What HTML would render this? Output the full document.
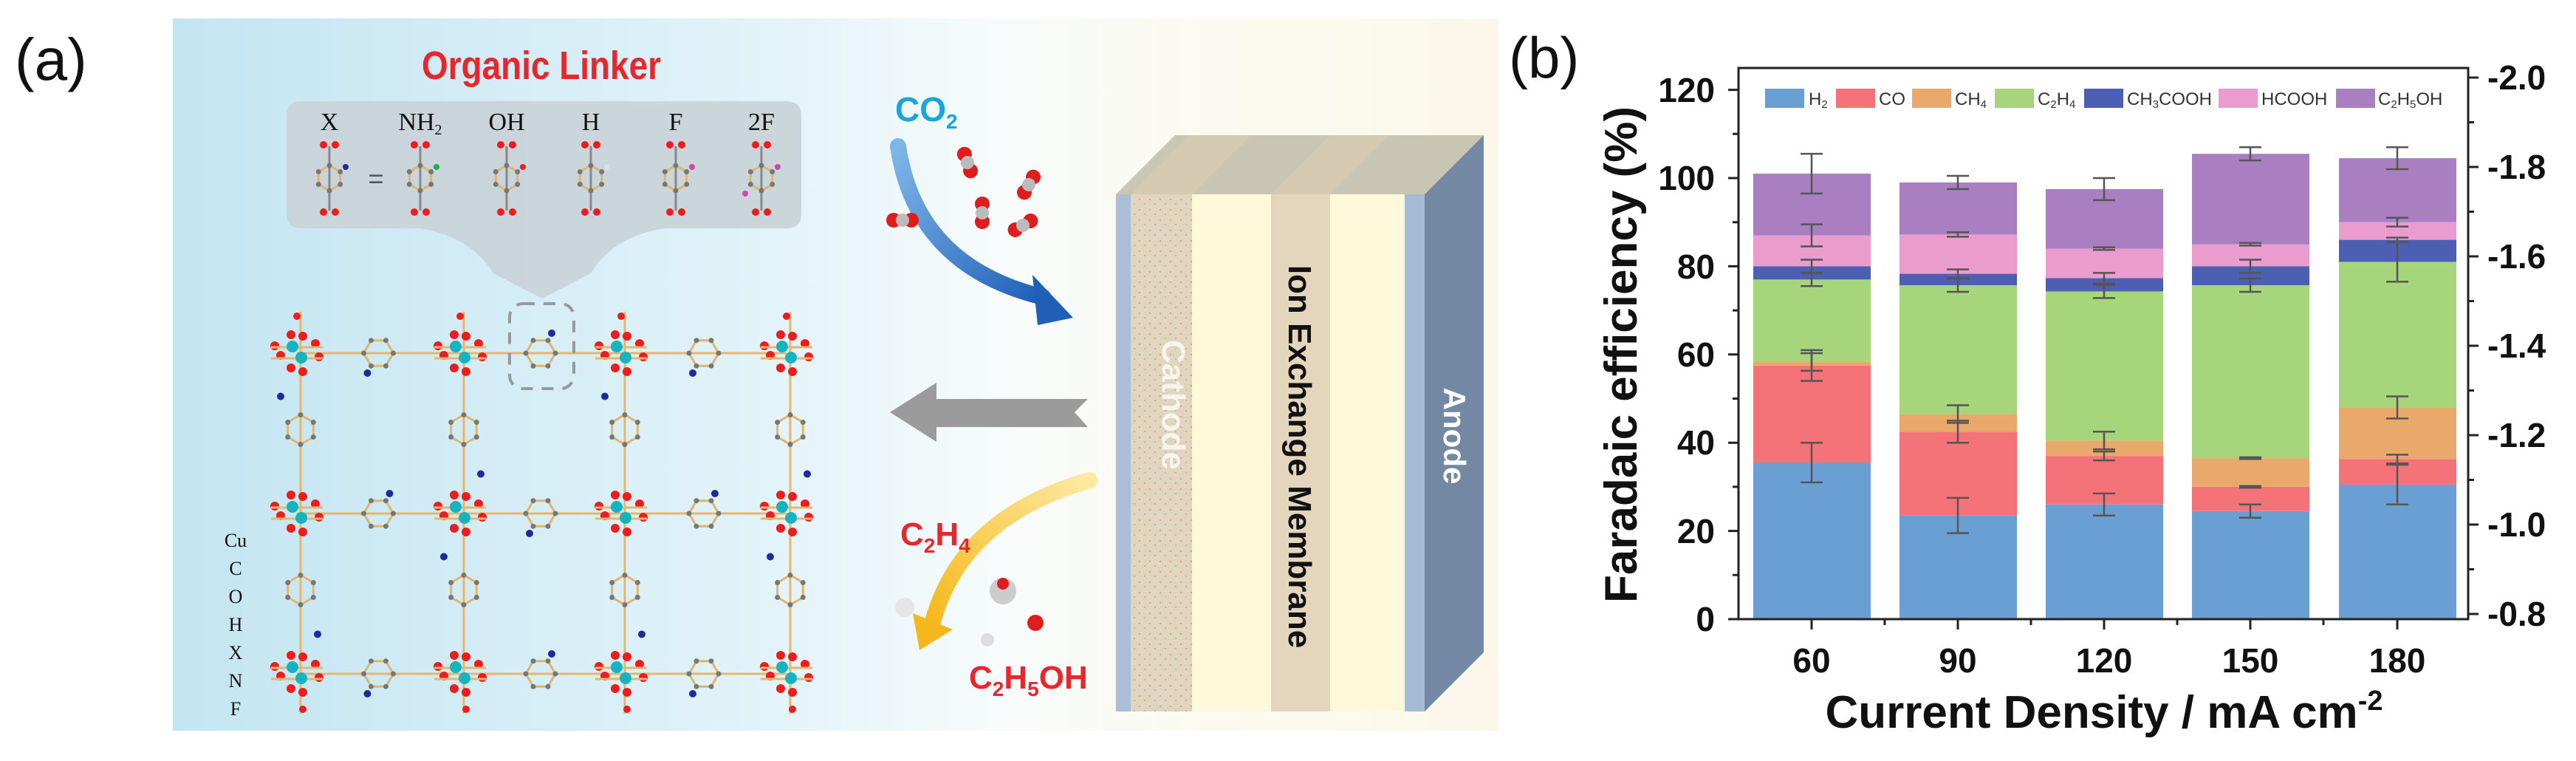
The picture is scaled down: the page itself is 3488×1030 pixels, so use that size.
<!DOCTYPE html>
<html><head><meta charset="utf-8"><style>
html,body{margin:0;padding:0;background:#fff;}
svg{display:block;}
</style></head><body>
<svg id="s" width="3488" height="1030" viewBox="0 0 3488 1030" xmlns="http://www.w3.org/2000/svg" font-family="Liberation Sans, sans-serif">
<defs>
<linearGradient id="bg" x1="0" y1="0" x2="1" y2="0">
<stop offset="0" stop-color="#c3e5f2"/><stop offset="0.45" stop-color="#e2f3f9"/><stop offset="0.62" stop-color="#f7fbfb"/><stop offset="0.78" stop-color="#fcfaf0"/><stop offset="1" stop-color="#fbf8ea"/></linearGradient>
<linearGradient id="blueA" x1="0" y1="0" x2="1" y2="1"><stop offset="0" stop-color="#7fb6e8"/><stop offset="1" stop-color="#1f5fb8"/></linearGradient>
<linearGradient id="yelA" x1="1" y1="0" x2="0" y2="1"><stop offset="0" stop-color="#fde9a0"/><stop offset="1" stop-color="#f5b81c"/></linearGradient>
<pattern id="tex" width="14" height="14" patternUnits="userSpaceOnUse"><rect width="14" height="14" fill="#e2d5bd"/><rect x="2" y="3" width="2" height="2" fill="#d9a08a"/><rect x="9" y="9" width="2" height="2" fill="#9fc0c8"/></pattern>
</defs>
<rect width="3488" height="1030" fill="#fff"/>
<!-- panel a -->
<text x="20" y="108" font-size="80" fill="#111">(a)</text>
<rect x="234" y="25" width="1795" height="964" fill="url(#bg)"/>
<text x="733" y="107" font-size="54" font-weight="bold" fill="#e8262c" text-anchor="middle" transform="translate(733 0) scale(0.85 1) translate(-733 0)">Organic Linker</text>
<path d="M408,137 H1065 Q1085,137 1085,157 V290 Q1085,309 1065,309 H900 Q830,320 800,370 L734,404 L668,370 Q638,320 568,309 H408 Q388,309 388,290 V157 Q388,137 408,137 Z" fill="#c9d4d9" opacity="0.95"/>
<g font-family="Liberation Serif, serif" font-size="34" fill="#111" text-anchor="middle">
<text x="446" y="176">X</text><text x="569" y="176">NH<tspan font-size="20" dy="6">2</tspan></text><text x="686" y="176">OH</text><text x="800" y="176">H</text><text x="915" y="176">F</text><text x="1031" y="176">2F</text>
</g>
<text x="509" y="254" font-size="36" fill="#555" text-anchor="middle">=</text>
<g id="mols"></g>
<g id="mof"></g>
<rect x="690" y="411" width="87" height="115" rx="18" fill="none" stroke="#999" stroke-width="4" stroke-dasharray="16 12"/>
<g font-family="Liberation Serif, serif" font-size="26" fill="#111" text-anchor="middle">
<text x="319" y="740">Cu</text><text x="319" y="778">C</text><text x="319" y="816">O</text><text x="319" y="854">H</text><text x="319" y="892">X</text><text x="319" y="930">N</text><text x="319" y="968">F</text>
</g>
<!-- CO2 -->
<text x="1212" y="164" font-size="46" font-weight="bold" fill="#1aa6dd">CO<tspan font-size="28" dy="10">2</tspan></text>
<path d="M1216,198 Q1240,360 1412,402" fill="none" stroke="url(#blueA)" stroke-width="22" stroke-linecap="round"/>
<polygon points="1453,430 1398,372 1405,440" fill="#1f5fb8"/>
<g id="co2"></g>
<!-- gray arrow -->
<polygon points="1205,558 1268,518 1268,540 1473,540 1455,558 1473,578 1268,578 1268,598" fill="#9b9b9b"/>
<!-- yellow arrow -->
<path d="M1475,650 Q1300,700 1262,845" fill="none" stroke="url(#yelA)" stroke-width="22" stroke-linecap="round"/>
<polygon points="1245,880 1236,830 1290,852" fill="#f5b81c"/>
<text x="1219" y="738" font-size="44" font-weight="bold" fill="#e8262c">C<tspan font-size="28" dy="10">2</tspan><tspan dy="-10">H</tspan><tspan font-size="28" dy="10">4</tspan></text>
<text x="1312" y="932" font-size="44" font-weight="bold" fill="#e8262c">C<tspan font-size="28" dy="10">2</tspan><tspan dy="-10">H</tspan><tspan font-size="28" dy="10">5</tspan><tspan dy="-10">OH</tspan></text>
<g id="prod"></g>
<!-- cell -->
<polygon points="1511,263 1929,263 2009,183 1591,183" fill="#c9c7b3"/>
<polygon points="1531,263 1614,263 1694,183 1611,183" fill="#d8ccb0" opacity="0.7"/>
<polygon points="1721,263 1801,263 1881,183 1801,183" fill="#d8ccb0" opacity="0.7"/>
<rect x="1511" y="263" width="20" height="700" fill="#a9bfd9"/>
<rect x="1531" y="263" width="83" height="700" fill="url(#tex)"/>
<rect x="1614" y="263" width="107" height="700" fill="#fdf8d9"/>
<rect x="1721" y="263" width="80" height="700" fill="#e3d6bd"/>
<rect x="1801" y="263" width="101" height="700" fill="#fdf8d9"/>
<rect x="1902" y="263" width="27" height="700" fill="#a6bcd6"/>
<polygon points="1929,263 2009,183 2009,883 1929,963" fill="#7388a3"/>
<text transform="translate(1574,548) rotate(90)" font-size="44" font-weight="bold" fill="#fff" fill-opacity="0.75" text-anchor="middle">Cathode</text>
<text transform="translate(1745,618) rotate(90)" font-size="44" font-weight="bold" fill="#111" text-anchor="middle">Ion Exchange Membrane</text>
<text transform="translate(1955,590) rotate(90)" font-size="42" font-weight="bold" fill="#fff" text-anchor="middle">Anode</text>

<!-- panel b -->
<text x="2043" y="105" font-size="78" fill="#111">(b)</text>
<g id="chart"></g>
<rect x="2354" y="92" width="988" height="746" fill="none" stroke="#222" stroke-width="3"/>
<g font-size="46" font-weight="bold" fill="#111" text-anchor="end">
<text x="2322" y="854">0</text><text x="2322" y="735">20</text><text x="2322" y="615">40</text><text x="2322" y="496">60</text><text x="2322" y="377">80</text><text x="2322" y="257">100</text><text x="2322" y="138">120</text>
</g>
<g font-size="46" font-weight="bold" fill="#111">
<text x="3368" y="847">-0.8</text><text x="3368" y="726">-1.0</text><text x="3368" y="605">-1.2</text><text x="3368" y="484">-1.4</text><text x="3368" y="363">-1.6</text><text x="3368" y="242">-1.8</text><text x="3368" y="121">-2.0</text>
</g>
<g font-size="46" font-weight="bold" fill="#111" text-anchor="middle">
<text x="2453" y="910">60</text><text x="2651" y="910">90</text><text x="2849" y="910">120</text><text x="3047" y="910">150</text><text x="3246" y="910">180</text>
</g>
<text x="2849" y="985" font-size="62" font-weight="bold" fill="#111" text-anchor="middle">Current Density / mA cm<tspan font-size="38" dy="-24">-2</tspan></text>
<text transform="translate(2216,480) rotate(-90)" font-size="62" font-weight="bold" fill="#111" text-anchor="middle">Faradaic efficiency (%)</text>
<g font-size="24" fill="#333">
<rect x="2390" y="120" width="53" height="26" fill="#6a9fd4"/><text x="2449" y="142">H<tspan font-size="15" dy="4">2</tspan></text>
<rect x="2486" y="120" width="53" height="26" fill="#f47378"/><text x="2544" y="142">CO</text>
<rect x="2589" y="120" width="53" height="26" fill="#e8a96a"/><text x="2647" y="142">CH<tspan font-size="15" dy="4">4</tspan></text>
<rect x="2701" y="120" width="53" height="26" fill="#a6d57b"/><text x="2759" y="142">C<tspan font-size="15" dy="4">2</tspan><tspan dy="-4">H</tspan><tspan font-size="15" dy="4">4</tspan></text>
<rect x="2822" y="120" width="53" height="26" fill="#4c5fb3"/><text x="2880" y="142">CH<tspan font-size="15" dy="4">3</tspan><tspan dy="-4">COOH</tspan></text>
<rect x="3004" y="120" width="53" height="26" fill="#e99ccd"/><text x="3062" y="142">HCOOH</text>
<rect x="3163" y="120" width="53" height="26" fill="#a97fc2"/><text x="3220" y="142">C<tspan font-size="15" dy="4">2</tspan><tspan dy="-4">H</tspan><tspan font-size="15" dy="4">5</tspan><tspan dy="-4">OH</tspan></text>
</g>
</svg>
<script>
const NS="http://www.w3.org/2000/svg";
function el(p,t,a){const e=document.createElementNS(NS,t);for(const k in a)e.setAttribute(k,a[k]);p.appendChild(e);return e;}
const chart=document.getElementById('chart');
const cols=['#6a9fd4','#f47378','#e8a96a','#a6d57b','#4c5fb3','#e99ccd','#a97fc2'];
const data=[[35.5,57.5,58.3,77,80,87,101],[23.5,42.5,46.5,75.7,78.3,87.2,99],[26,37,40.5,74.3,77.3,84,97.5],[24.5,30,36.5,75.7,80,85,105.5],[30.5,36.3,48,81,86,90,104.5]];
const err=[[4.5,3.5,2,1.5,1.5,2.5,4.5],[4,2.5,2,1.5,1,0.5,1.5],[2.5,1,2,1.5,1.2,0.3,2.5],[1.5,0.2,0.2,1.5,1.5,0.3,1.5],[4.5,1,2.5,4.5,0.5,1,2.5]];
const cx=[2453,2651,2849,3047,3246];
const Y=v=>838-v*5.97;
data.forEach((d,i)=>{let prev=0;d.forEach((v,j)=>{el(chart,'rect',{x:cx[i]-79,y:Y(v),width:159,height:Y(prev)-Y(v),fill:cols[j]});prev=v;});});
data.forEach((d,i)=>{d.forEach((v,j)=>{const e=err[i][j];const a=Y(v+e),b=Y(v-e);el(chart,'path',{d:`M${cx[i]},${a}V${b}M${cx[i]-15},${a}h30M${cx[i]-15},${b}h30`,stroke:'#555','stroke-width':2.5,fill:'none'});});});
// ticks
let t='';
for(let v=0;v<=120;v+=10){const y=Y(v);t+=`M2354,${y}h${v%20?-8:-14}`;}
for(let k=0;k<=12;k++){const y=105+k*60.5;t+=`M3342,${y}h${k%2?8:14}`;}
for(let k=0;k<11;k++){const x=2354+k*99+ (k==0?0:0);}
cx.forEach(x=>t+=`M${x},838v14`);
[2552,2750,2948,3146].forEach(x=>t+=`M${x},838v8`);
el(chart,'path',{d:t,stroke:'#222','stroke-width':3,fill:'none'});
const R=r=>105+(-2.0-r)/0.2*121;
const ln=[-0.96,-1.1,-1.31,-1.45,-1.66];
el(chart,'polyline',{points:ln.map((r,i)=>cx[i]+','+R(r)).join(' '),fill:'none',stroke:'#444','stroke-width':3});
ln.forEach((r,i)=>el(chart,'rect',{x:cx[i]-10,y:R(r)-10,width:20,height:20,fill:'#444'}));
// MOF
const mof=document.getElementById('mof');
const xs=[402,623,841,1065],ys=[473,690,907];
function hex(g,x,y,r,rot){let p=[];for(let k=0;k<6;k++){const a=rot+k*Math.PI/3;p.push((x+r*Math.cos(a)).toFixed(1)+','+(y+r*Math.sin(a)).toFixed(1));}
el(g,'polygon',{points:p.join(' '),fill:'none',stroke:'#e3b46a','stroke-width':3});
p.forEach(q=>{const [a,b]=q.split(',');el(g,'circle',{cx:a,cy:b,r:3.5,fill:'#777'});});}
function bond(x1,y1,x2,y2){el(mof,'line',{x1,y1,x2,y2,stroke:'#e8b66a','stroke-width':3});}
// horizontal linkers
ys.forEach((y,ri)=>{for(let i=0;i<3;i++){const a=xs[i],b=xs[i+1],m=(a+b)/2;bond(a,y+5,b,y+5);hex(mof,m,y+5,20,0);el(mof,'circle',{cx:m+(i+ri)%2*30-15,cy:y+(((i+ri)%2)?-22:32),r:5,fill:'#1c2a9c'});}});
xs.forEach((x,ci)=>{for(let j=0;j<2;j++){const a=ys[j],b=ys[j+1],m=(a+b)/2;bond(x+5,a,x+5,b);hex(mof,x+5,m,20,Math.PI/2);el(mof,'circle',{cx:x+((ci+j)%2?28:-22),cy:m+((ci+j)%2?60:-45),r:5,fill:'#1c2a9c'});}
bond(x+5,ys[0],x+5,422);bond(x+5,ys[2],x+5,966);});
xs.forEach(x=>ys.forEach(y=>{
[[-8,-20],[8,-18],[-8,25],[8,30],[-30,-5],[-22,8],[25,-8],[30,10]].forEach(([dx,dy])=>el(mof,'circle',{cx:x+dx,cy:y+dy,r:6,fill:'#ef1c1c'}));
el(mof,'line',{x1:x-35,y1:y-3,x2:x+35,y2:y-3,stroke:'#e8b66a','stroke-width':3});
el(mof,'line',{x1:x-35,y1:y+12,x2:x+35,y2:y+12,stroke:'#e8b66a','stroke-width':3});
el(mof,'circle',{cx:x-6,cy:y-4,r:8,fill:'#16b3c0'});el(mof,'circle',{cx:x+6,cy:y+11,r:8,fill:'#16b3c0'});
}));
[402,623,841,1065].forEach(x=>{el(mof,'circle',{cx:x,cy:428,r:5,fill:'#ef1c1c'});el(mof,'circle',{cx:x+8,cy:960,r:5,fill:'#ef1c1c'});});
// callout molecules
const mols=document.getElementById('mols');
const mx=[446,569,686,800,915,1031],xc=['#1c2a9c','#17b14a','#ef1c1c','#ddd','#d048a8','#d048a8'];
mx.forEach((x,i)=>{el(mols,'line',{x1:x,y1:198,x2:x,y2:285,stroke:'#888','stroke-width':3});hex(mols,x,241,17,Math.PI/2);
[[-8,196],[8,196],[-8,287],[8,287]].forEach(([dx,y])=>el(mols,'circle',{cx:x+dx,cy:y,r:5,fill:'#ef1c1c'}));
el(mols,'circle',{cx:x+22,cy:226,r:4,fill:xc[i]});if(i==5)el(mols,'circle',{cx:x-22,cy:262,r:4,fill:xc[i]});});
// CO2 molecules
const co=document.getElementById('co2');
[[1310,220,70],[1393,250,-60],[1330,288,90],[1385,305,-30],[1222,298,0]].forEach(([x,y,r])=>{const g=el(co,'g',{transform:`translate(${x},${y}) rotate(${r})`});
el(g,'circle',{cx:-12,cy:0,r:10,fill:'#e01d1d'});el(g,'circle',{cx:12,cy:0,r:10,fill:'#e01d1d'});el(g,'circle',{cx:0,cy:0,r:9,fill:'#bbb'});});
const pr=document.getElementById('prod');
[[1358,800,'#ccc',18],[1358,790,'#e01d1d',8],[1402,843,'#e01d1d',11],[1225,822,'#e6e6e6',13],[1337,866,'#ddd',9]].forEach(([x,y,c,r])=>el(pr,'circle',{cx:x,cy:y,r,fill:c}));
</script>
</body></html>
